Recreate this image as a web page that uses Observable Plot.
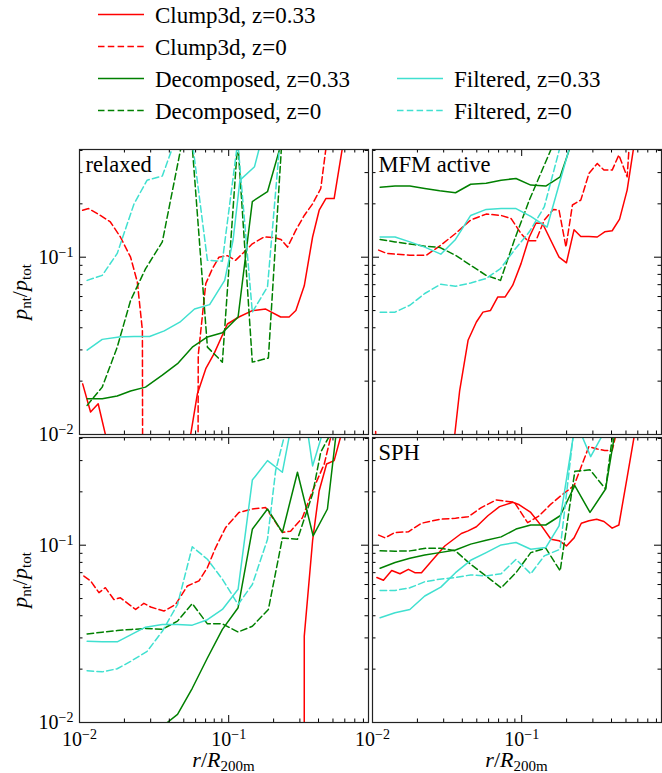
<!DOCTYPE html>
<html><head><meta charset="utf-8">
<script src="https://cdn.jsdelivr.net/npm/d3@7"></script>
<script src="https://cdn.jsdelivr.net/npm/@observablehq/plot@0.6"></script>
<style>
body{margin:0;background:#fff;}
#wrap{position:relative;width:662px;height:773px;overflow:hidden;font-family:"Liberation Serif","Times New Roman",serif;color:#000;}
.xlab{position:absolute;width:289px;text-align:center;font-size:22px;line-height:22px;white-space:nowrap;}
.ylab{position:absolute;width:200px;height:22px;text-align:center;font-size:22px;line-height:22px;white-space:nowrap;transform:rotate(-90deg);}
.sub{font-size:15px;position:relative;top:4px;}
</style></head><body><div id="wrap"></div>
<script>
// ---------- data ----------
const X_DOMAIN = [0.01, 0.865];
const Y_DOMAIN = [0.01, 0.405];
const MAJOR_TICKS = [0.01, 0.1];
const MINOR_X = [0.02,0.03,0.04,0.05,0.06,0.07,0.08,0.09,0.2,0.3,0.4,0.5,0.6,0.7,0.8];
const MINOR_Y = [0.02,0.03,0.04,0.05,0.06,0.07,0.08,0.09,0.2,0.3,0.4];

const seriesNames = ["Clump3d, z=0.33","Clump3d, z=0","Decomposed, z=0.33","Decomposed, z=0","Filtered, z=0.33","Filtered, z=0"];
const seriesColors = ["#ff0000","#ff0000","#008000","#008000","#40e0d0","#40e0d0"];
const seriesDashed = [false,true,false,true,false,true];
const panelNames = ["relaxed","MFM active","","SPH"];

// panel 1: relaxed
const relaxedClump033 = [[0.0105,0.0193],[0.01186,0.0134],[0.01334,0.0149],[0.0172,0.006],[0.02,1e-6],[0.048,1e-6],[0.0535,0.0082],[0.0617,0.017],[0.0702,0.0235],[0.0798,0.0286],[0.098,0.042],[0.117,0.046],[0.144,0.050],[0.177,0.051],[0.223,0.046],[0.254,0.046],[0.282,0.050],[0.321,0.069],[0.365,0.130],[0.404,0.184],[0.448,0.214],[0.509,0.214],[0.58,0.42],[0.66,0.6]];
const relaxedClump0 = [[0.0105,0.184],[0.0115,0.188],[0.0138,0.172],[0.0161,0.158],[0.0188,0.130],[0.022,0.10],[0.0244,0.0726],[0.0264,0.0387],[0.027,1e-6],[0.061,1e-6],[0.0625,0.028],[0.0702,0.071],[0.0777,0.086],[0.086,0.10],[0.098,0.102],[0.111,0.096],[0.124,0.105],[0.144,0.119],[0.173,0.130],[0.201,0.129],[0.224,0.126],[0.248,0.114],[0.282,0.142],[0.321,0.172],[0.365,0.20],[0.414,0.244],[0.45,0.42],[0.5,0.6]];
const relaxedDecomp033 = [[0.01125,0.0159],[0.0142,0.0159],[0.0179,0.0165],[0.022,0.0176],[0.0277,0.0185],[0.0359,0.0216],[0.0454,0.0251],[0.057,0.0311],[0.072,0.0355],[0.0907,0.0375],[0.1156,0.046],[0.144,0.206],[0.182,0.234],[0.227,0.45]];
const relaxedDecomp0 = [[0.01125,0.0146],[0.0142,0.0185],[0.0179,0.0311],[0.022,0.057],[0.0277,0.086],[0.0359,0.122],[0.048,0.42],[0.057,0.42],[0.072,0.0311],[0.0907,0.0256],[0.115,0.45],[0.144,0.0256],[0.1845,0.027],[0.227,0.45]];
const relaxedFilt033 = [[0.01125,0.0299],[0.0142,0.0344],[0.0184,0.0355],[0.0232,0.0357],[0.0295,0.0357],[0.037,0.0384],[0.047,0.043],[0.059,0.051],[0.0745,0.054],[0.094,0.074],[0.107,0.125],[0.119,0.272],[0.149,0.324],[0.18,0.6]];
const relaxedFilt0 = [[0.01125,0.074],[0.0142,0.079],[0.0179,0.105],[0.0232,0.20],[0.0284,0.272],[0.0359,0.287],[0.0455,0.5],[0.057,0.45],[0.072,0.096],[0.0907,0.095],[0.115,0.45],[0.144,0.049],[0.182,0.068],[0.227,0.6]];

// panel 2: MFM active
const mfmClump033 = [[0.0105,0.0104],[0.0112,1e-6],[0.03,1e-6],[0.0345,0.0079],[0.0384,0.0177],[0.0437,0.034],[0.0497,0.0431],[0.055,0.049],[0.0618,0.0501],[0.0692,0.0597],[0.0775,0.0597],[0.0871,0.0695],[0.099,0.092],[0.1125,0.130],[0.1247,0.156],[0.138,0.155],[0.178,0.10],[0.1995,0.093],[0.2244,0.143],[0.249,0.131],[0.2825,0.131],[0.321,0.130],[0.36,0.139],[0.404,0.141],[0.453,0.164],[0.509,0.239],[0.564,0.42],[0.65,0.6]];
const mfmClump0 = [[0.011,0.1096],[0.01247,0.105],[0.01416,0.104],[0.0178,0.1026],[0.023,0.1026],[0.0287,0.117],[0.036,0.136],[0.0455,0.162],[0.0578,0.175],[0.0728,0.172],[0.085,0.165],[0.099,0.136],[0.1096,0.124],[0.1247,0.124],[0.1416,0.162],[0.163,0.186],[0.178,0.184],[0.198,0.114],[0.2188,0.197],[0.249,0.21],[0.2825,0.297],[0.321,0.338],[0.356,0.31],[0.404,0.31],[0.448,0.377],[0.509,0.284],[0.54,0.6]];
const mfmDecomp033 = [[0.01125,0.248],[0.01416,0.252],[0.0178,0.252],[0.0224,0.244],[0.0282,0.237],[0.036,0.231],[0.0455,0.258],[0.0578,0.261],[0.0728,0.272],[0.0916,0.278],[0.115,0.255],[0.145,0.252],[0.181,0.284],[0.227,0.5]];
const mfmDecomp0 = [[0.01125,0.126],[0.01416,0.122],[0.0178,0.1186],[0.0224,0.1154],[0.0282,0.1135],[0.036,0.1026],[0.0455,0.090],[0.0578,0.079],[0.0721,0.074],[0.0893,0.125],[0.1125,0.21],[0.16,0.42]];
const mfmFilt033 = [[0.01125,0.130],[0.01416,0.130],[0.0178,0.122],[0.0224,0.114],[0.0287,0.104],[0.036,0.126],[0.0455,0.172],[0.0578,0.186],[0.0728,0.188],[0.0916,0.188],[0.115,0.17],[0.148,0.148],[0.21,0.42]];
const mfmFilt0 = [[0.01125,0.049],[0.01416,0.049],[0.0178,0.0536],[0.0224,0.0624],[0.0287,0.0704],[0.036,0.0685],[0.0455,0.0716],[0.0578,0.0758],[0.0721,0.0863],[0.0893,0.1097],[0.1125,0.139],[0.1416,0.192],[0.181,0.42]];

// panel 3 (lower left)
const p3Clump033 = [[0.0105,1e-6],[0.3205,1e-6],[0.321,0.0307],[0.365,0.106],[0.404,0.203],[0.453,0.287],[0.509,0.30],[0.58,0.45]];
const p3Clump0 = [[0.0107,0.067],[0.01186,0.0629],[0.0135,0.054],[0.0149,0.0576],[0.017,0.0494],[0.0188,0.0505],[0.0238,0.0434],[0.027,0.047],[0.030,0.0448],[0.0368,0.0425],[0.044,0.0463],[0.0528,0.0589],[0.0632,0.0629],[0.072,0.0748],[0.0818,0.097],[0.0955,0.126],[0.117,0.153],[0.144,0.16],[0.177,0.163],[0.229,0.118],[0.26,0.12],[0.312,0.143],[0.365,0.203],[0.437,0.287],[0.497,0.45]];
const p3Decomp033 = [[0.0284,1e-6],[0.0359,0.0095],[0.0454,0.0111],[0.057,0.0156],[0.072,0.0231],[0.0907,0.0335],[0.1156,0.0444],[0.144,0.123],[0.182,0.16],[0.229,0.118],[0.289,0.258],[0.368,0.113],[0.459,0.16],[0.55,0.6]];
const p3Decomp0 = [[0.01125,0.0316],[0.0142,0.0323],[0.0179,0.033],[0.0224,0.0335],[0.0277,0.0339],[0.0359,0.0336],[0.0454,0.0373],[0.057,0.0468],[0.072,0.036],[0.0907,0.036],[0.1156,0.0324],[0.144,0.0349],[0.1845,0.0434],[0.229,0.1097],[0.289,0.108],[0.365,0.1945],[0.414,0.335],[0.5,0.45]];
const p3Filt033 = [[0.01125,0.0287],[0.0142,0.0285],[0.0179,0.0285],[0.0277,0.0345],[0.0359,0.0357],[0.0454,0.0357],[0.057,0.0354],[0.072,0.038],[0.0907,0.0434],[0.1156,0.0564],[0.144,0.233],[0.182,0.30],[0.229,0.258],[0.26,0.45],[0.32,0.6],[0.365,0.28],[0.45,0.5]];
const p3Filt0 = [[0.01125,0.0196],[0.0142,0.0193],[0.0179,0.0201],[0.022,0.0221],[0.0284,0.0252],[0.0359,0.0327],[0.0454,0.0463],[0.057,0.098],[0.072,0.0833],[0.0907,0.0643],[0.1156,0.0463],[0.144,0.060],[0.182,0.108],[0.2065,0.264],[0.25,0.5]];

// panel 4: SPH
const sphClump033 = [[0.0107,0.0657],[0.01184,0.0634],[0.01345,0.072],[0.01528,0.069],[0.0174,0.0731],[0.0192,0.070],[0.0213,0.070],[0.0249,0.0815],[0.0305,0.099],[0.0394,0.1164],[0.0437,0.1205],[0.0497,0.127],[0.0593,0.1466],[0.071,0.165],[0.0871,0.1746],[0.0964,0.169],[0.115,0.153],[0.138,0.126],[0.157,0.108],[0.178,0.106],[0.1995,0.099],[0.2244,0.110],[0.251,0.133],[0.2825,0.1374],[0.318,0.140],[0.356,0.136],[0.404,0.1248],[0.448,0.130],[0.509,0.2415],[0.578,0.45]];
const sphClump0 = [[0.011,0.114],[0.01214,0.110],[0.01416,0.118],[0.0174,0.119],[0.0213,0.133],[0.0282,0.140],[0.036,0.142],[0.0437,0.1445],[0.0536,0.163],[0.0675,0.18],[0.0893,0.1746],[0.1096,0.134],[0.131,0.1466],[0.157,0.1706],[0.183,0.19],[0.2244,0.217],[0.282,0.36],[0.321,0.349],[0.36,0.342],[0.404,0.342],[0.45,0.5]];
const sphDecomp033 = [[0.01125,0.0742],[0.01416,0.0798],[0.0178,0.0844],[0.0224,0.0881],[0.0282,0.0908],[0.036,0.094],[0.0455,0.1014],[0.0578,0.1067],[0.0728,0.1114],[0.0916,0.1233],[0.115,0.130],[0.145,0.130],[0.181,0.1466],[0.227,0.217],[0.287,0.153],[0.365,0.2075],[0.45,0.6]];
const sphDecomp0 = [[0.01125,0.0929],[0.01416,0.0925],[0.0178,0.0929],[0.023,0.0962],[0.0287,0.0962],[0.036,0.0929],[0.0455,0.078],[0.0578,0.067],[0.0728,0.0575],[0.0916,0.070],[0.115,0.0908],[0.145,0.0962],[0.181,0.0716],[0.227,0.261],[0.287,0.266],[0.365,0.2075],[0.43,0.6]];
const sphFilt033 = [[0.01125,0.039],[0.01416,0.0416],[0.0178,0.0434],[0.0224,0.0517],[0.0287,0.058],[0.036,0.070],[0.0455,0.0822],[0.0578,0.0908],[0.0728,0.1004],[0.0916,0.1035],[0.115,0.0949],[0.145,0.097],[0.178,0.1285],[0.23,0.5],[0.29,0.316],[0.365,0.45]];
const sphFilt0 = [[0.01125,0.0556],[0.01416,0.0556],[0.0178,0.0575],[0.0224,0.0622],[0.0282,0.0643],[0.036,0.0657],[0.0455,0.068],[0.0578,0.067],[0.0728,0.069],[0.0916,0.0833],[0.115,0.069],[0.1416,0.087],[0.181,0.0949],[0.227,0.5]];

const panelData = [
  [relaxedClump033, relaxedClump0, relaxedDecomp033, relaxedDecomp0, relaxedFilt033, relaxedFilt0],
  [mfmClump033, mfmClump0, mfmDecomp033, mfmDecomp0, mfmFilt033, mfmFilt0],
  [p3Clump033, p3Clump0, p3Decomp033, p3Decomp0, p3Filt033, p3Filt0],
  [sphClump033, sphClump0, sphDecomp033, sphDecomp0, sphFilt033, sphFilt0]
];

// ---------- layout ----------
const wrap = document.getElementById("wrap");
const FONT = "'Liberation Serif', 'Times New Roman', serif";
const PW = 289, PH = 285;
const frameLeft = [79, 372], frameTop = [149, 437];
const DASH = "6.5,3.3";

function fmt(d){ return "10|" + Math.round(Math.log10(d)); }
function superscript(svg){
  d3.select(svg).selectAll('g[aria-label="x-axis tick label"] text, g[aria-label="y-axis tick label"] text').each(function(){
    const s = this.textContent;
    if (!s.includes("|")) return;
    const [b, e] = s.split("|");
    const t = d3.select(this);
    t.text(null);
    t.append("tspan").text(b);
    t.append("tspan").attr("font-size", 14).attr("dy", "-7").text(e.replace("-", "\u2212"));
  });
}

panelData.forEach((series, i) => {
  const col = i % 2, row = Math.floor(i / 2);
  const showX = row === 1, showY = col === 0;
  const mt = 12, mr = 12, mb = showX ? 45 : 12, ml = showY ? 79 : 12;
  const marks = [];
  series.forEach((data, k) => {
    marks.push(Plot.line(data, {x: d => d[0], y: d => d[1], stroke: seriesColors[k], strokeWidth: 1.5,
      strokeDasharray: seriesDashed[k] ? DASH : null, clip: true}));
  });
  // inward ticks on all four sides
  const tk = {stroke: "#000", strokeWidth: 1};
  marks.push(Plot.tickX(MAJOR_TICKS, {x: d => d, insetTop: PH - 7, ...tk}));
  marks.push(Plot.tickX(MAJOR_TICKS, {x: d => d, insetBottom: PH - 7, ...tk}));
  marks.push(Plot.tickX(MINOR_X, {x: d => d, insetTop: PH - 3.5, ...tk}));
  marks.push(Plot.tickX(MINOR_X, {x: d => d, insetBottom: PH - 3.5, ...tk}));
  marks.push(Plot.tickY(MAJOR_TICKS, {y: d => d, insetRight: PW - 7, ...tk}));
  marks.push(Plot.tickY(MAJOR_TICKS, {y: d => d, insetLeft: PW - 7, ...tk}));
  marks.push(Plot.tickY(MINOR_Y, {y: d => d, insetRight: PW - 3.5, ...tk}));
  marks.push(Plot.tickY(MINOR_Y, {y: d => d, insetLeft: PW - 3.5, ...tk}));
  marks.push(Plot.frame({stroke: "#222", strokeWidth: 1.2}));
  if (panelNames[i]) {
    marks.push(Plot.text([panelNames[i]], {text: d => d, frameAnchor: "top-left", dx: 6, dy: 7,
      lineAnchor: "top", textAnchor: "start", fontSize: 22.5, fontFamily: FONT, fill: "#000"}));
  }
  if (showX) marks.push(Plot.axisX(MAJOR_TICKS, {anchor: "bottom", tickSize: 0, tickPadding: 9, tickFormat: fmt,
      fontSize: 20, fontFamily: FONT, label: null}));
  if (showY) marks.push(Plot.axisY(MAJOR_TICKS, {anchor: "left", tickSize: 0, tickPadding: 6, tickFormat: fmt,
      fontSize: 20, fontFamily: FONT, label: null}));
  const svg = Plot.plot({
    width: ml + PW + mr, height: mt + PH + mb,
    marginTop: mt, marginRight: mr, marginBottom: mb, marginLeft: ml,
    x: {type: "log", domain: X_DOMAIN, axis: null},
    y: {type: "log", domain: Y_DOMAIN, axis: null},
    style: {background: "transparent", fontFamily: FONT, fontSize: "20px", color: "#000", overflow: "visible"},
    marks
  });
  superscript(svg);
  svg.style.position = "absolute";
  svg.style.left = (frameLeft[col] - ml) + "px";
  svg.style.top = (frameTop[row] - mt) + "px";
  svg.style.maxWidth = "none";
  wrap.appendChild(svg);
});

// axis titles
[0, 1].forEach(col => {
  const d = document.createElement("div");
  d.className = "xlab";
  d.style.left = frameLeft[col] + "px";
  d.style.top = "749px";
  d.innerHTML = '<i>r</i>/<i>R</i><span class="sub">200m</span>';
  wrap.appendChild(d);
});
[0, 1].forEach(row => {
  const d = document.createElement("div");
  d.className = "ylab";
  d.style.left = (20 - 100) + "px";
  d.style.top = (frameTop[row] + PH / 2 - 11) + "px";
  d.innerHTML = '<i>p</i><span class="sub">nt</span>/<i>p</i><span class="sub">tot</span>';
  wrap.appendChild(d);
});

// legend
const legendPos = [[98, 0], [98, 1], [98, 2], [98, 3], [397, 2], [397, 3]];
const leg = d3.select(wrap).append("svg").attr("width", 662).attr("height", 130)
  .style("position", "absolute").style("left", "0px").style("top", "0px");
seriesNames.forEach((name, k) => {
  const [x0, r] = legendPos[k];
  const yb = 22.5 + r * 32;
  leg.append("line").attr("x1", x0).attr("x2", x0 + 46).attr("y1", yb - 8).attr("y2", yb - 8)
    .attr("stroke", seriesColors[k]).attr("stroke-width", 1.5)
    .attr("stroke-dasharray", seriesDashed[k] ? DASH : null);
  leg.append("text").attr("x", x0 + 57).attr("y", yb).attr("font-family", FONT).attr("font-size", 23)
    .attr("fill", "#000").text(name);
});
</script></body></html>
